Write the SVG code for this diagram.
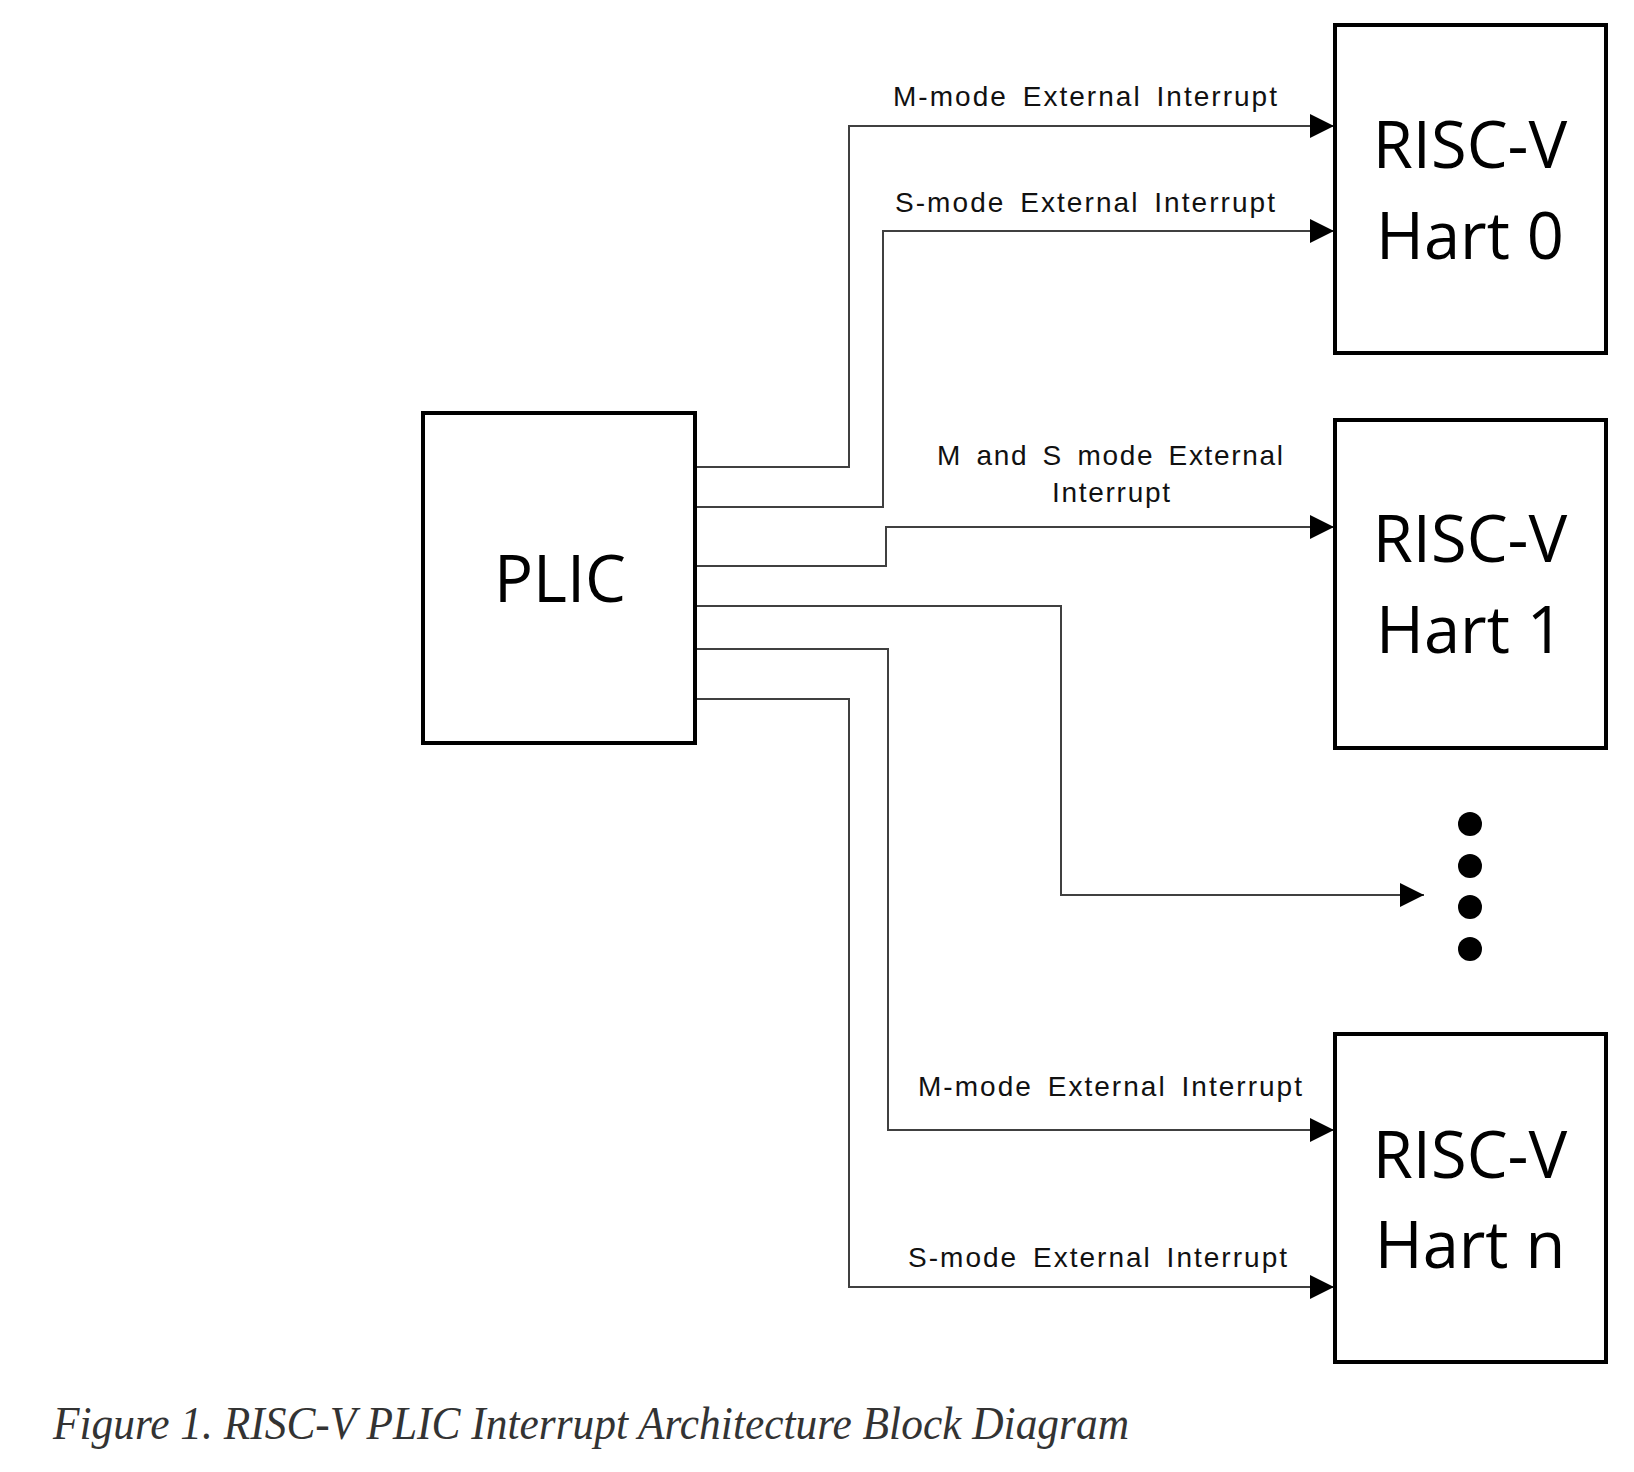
<svg xmlns="http://www.w3.org/2000/svg" width="1634" height="1472" viewBox="0 0 1634 1472">
<style>
.box{fill:#fff;stroke:#000;stroke-width:4}
.big{font-family:"Open Sans","Liberation Sans",sans-serif;font-size:65px;fill:#000;text-anchor:middle}
.lbl{font-family:"Liberation Sans",Arial,sans-serif;font-size:28px;fill:#111;word-spacing:5px}
.wire{fill:none;stroke:#404040;stroke-width:2}
.cap{font-family:"Liberation Serif","Times New Roman",serif;font-style:italic;font-size:46px;fill:#333}
</style>
<defs>
<marker id="arr" markerUnits="userSpaceOnUse" markerWidth="24" markerHeight="24" refX="24" refY="12" orient="auto">
<path d="M0,0 L24,12 L0,24 Z" fill="#000"/>
</marker>
</defs>
<rect width="1634" height="1472" fill="#fff"/>
<g id="connectors">
<polyline class="wire" points="695,467 849,467 849,126 1334,126" marker-end="url(#arr)"/>
<polyline class="wire" points="695,507 883,507 883,231 1334,231" marker-end="url(#arr)"/>
<polyline class="wire" points="695,566 886,566 886,527 1334,527" marker-end="url(#arr)"/>
<polyline class="wire" points="695,606 1061,606 1061,895 1424,895" marker-end="url(#arr)"/>
<polyline class="wire" points="695,649 888,649 888,1130 1334,1130" marker-end="url(#arr)"/>
<polyline class="wire" points="695,699 849,699 849,1287 1334,1287" marker-end="url(#arr)"/>
<text class="lbl" x="893" y="106" textLength="384" lengthAdjust="spacing">M-mode External Interrupt</text>
<text class="lbl" x="895" y="212" textLength="380" lengthAdjust="spacing">S-mode External Interrupt</text>
<text class="lbl" x="937" y="465" textLength="346" lengthAdjust="spacing">M and S mode External</text>
<text class="lbl" x="1052" y="502" textLength="118" lengthAdjust="spacing">Interrupt</text>
<text class="lbl" x="918" y="1096" textLength="384" lengthAdjust="spacing">M-mode External Interrupt</text>
<text class="lbl" x="908" y="1267" textLength="379" lengthAdjust="spacing">S-mode External Interrupt</text>
</g>
<g id="plic">
<rect class="box" x="423" y="413" width="272" height="330"/>
<text class="big" x="560" y="602">PLIC</text>
</g>
<g id="hart0">
<rect class="box" x="1335" y="25" width="271" height="328"/>
<text class="big" x="1470" y="168">RISC-V</text>
<text class="big" x="1470" y="259">Hart 0</text>
</g>
<g id="hart1">
<rect class="box" x="1335" y="420" width="271" height="328"/>
<text class="big" x="1470" y="562">RISC-V</text>
<text class="big" x="1470" y="653">Hart 1</text>
</g>
<g id="ellipsis">
<circle cx="1470" cy="824" r="12" fill="#000"/>
<circle cx="1470" cy="866" r="12" fill="#000"/>
<circle cx="1470" cy="907" r="12" fill="#000"/>
<circle cx="1470" cy="949" r="12" fill="#000"/>
</g>
<g id="hartn">
<rect class="box" x="1335" y="1034" width="271" height="328"/>
<text class="big" x="1470" y="1178">RISC-V</text>
<text class="big" x="1470" y="1268">Hart n</text>
</g>
<g id="caption">
<text class="cap" x="53" y="1439" textLength="1076" lengthAdjust="spacingAndGlyphs">Figure 1. RISC-V PLIC Interrupt Architecture Block Diagram</text>
</g>
</svg>
